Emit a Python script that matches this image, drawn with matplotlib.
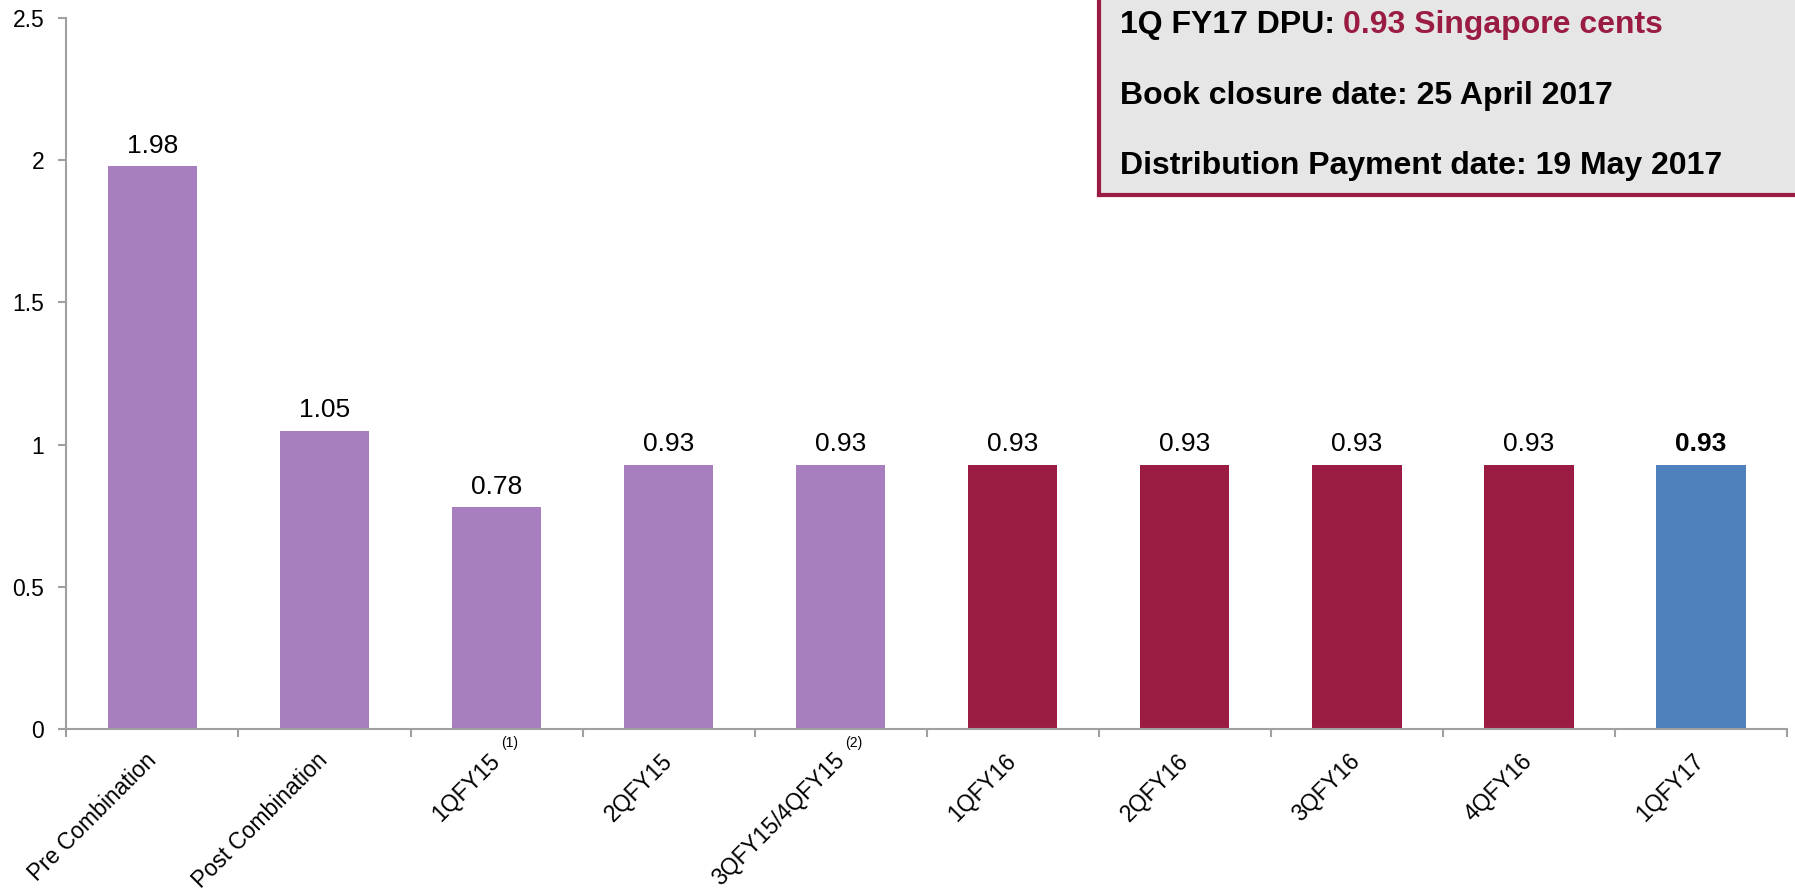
# -*- coding: utf-8 -*-
# Historique DPU par trimestre (graphique en barres)

import numpy as np
import matplotlib
matplotlib.use('Agg')
import matplotlib.pyplot as plt
from matplotlib.patches import Rectangle

plt.rcParams['font.family'] = ['Liberation Sans', 'DejaVu Sans']

########################################################
# Donnees
categories = ['Pre Combination', 'Post Combination', '1QFY15', '2QFY15',
              '3QFY15/4QFY15', '1QFY16', '2QFY16', '3QFY16', '4QFY16', '1QFY17']
dpu = [1.98, 1.05, 0.78, 0.93, 0.93, 0.93, 0.93, 0.93, 0.93, 0.93]
groupes = ['avant', 'avant', 'avant', 'avant', 'avant',
           'fy16', 'fy16', 'fy16', 'fy16', 'actuel']
notes = {2: '(1)', 4: '(2)'}
yticks = [0, 0.5, 1, 1.5, 2, 2.5]

encadre_titre = '1Q FY17 DPU: '
encadre_valeur = '0.93 Singapore cents'
encadre_lignes = ['Book closure date: 25 April 2017',
                  'Distribution Payment date: 19 May 2017']

########################################################
# Styles
couleurs = {'avant': '#a77fbf', 'fy16': '#9a1c42', 'actuel': '#4f81bd'}
gris = '#a0a0a0'
rouge = '#9a1c42'
taille_encadre = 23

fig = plt.figure(figsize=(17.95, 8.96), dpi=100)
ax = fig.add_axes([0.037, 0.186, 0.9585, 0.794])

x = np.arange(len(categories))
ax.bar(x, dpu, width=0.52, color=[couleurs[g] for g in groupes], zorder=2)

# Etiquettes des valeurs
for i, v in enumerate(dpu):
    poids = 'bold' if groupes[i] == 'actuel' else 'normal'
    ax.annotate('{:.2f}'.format(v), xy=(i, v), xytext=(0, 6),
                textcoords='offset points', ha='center', va='bottom',
                fontsize=19, fontweight=poids)

# Axes
ax.set_xlim(-0.5, len(categories) - 0.5)
ax.set_ylim(0, 2.5)
ax.set_yticks(yticks)
ax.set_yticklabels(['{:g}'.format(t) for t in yticks], fontsize=16.5)
ax.set_xticks(x)
ax.set_xticklabels(categories, rotation=45, ha='right', va='center',
                   rotation_mode='anchor', fontsize=16.5)
ax.set_xticks(np.arange(-0.5, len(categories), 1), minor=True)
ax.tick_params(axis='x', which='major', length=0, pad=20)
ax.tick_params(axis='x', which='minor', length=6, color=gris, width=1.5)
ax.tick_params(axis='y', length=6, color=gris, width=1.5, pad=10)
for s in ['top', 'right']:
    ax.spines[s].set_visible(False)
for s in ['left', 'bottom']:
    ax.spines[s].set_color(gris)
    ax.spines[s].set_linewidth(1.5)

# Renvois (1), (2)
for i, n in notes.items():
    ax.annotate(n, xy=(i, 0), xytext=(3.5, -10), textcoords='offset points',
                ha='left', va='center', fontsize=10, annotation_clip=False)

########################################################
# Encadre en haut a droite
x0, y0 = 0.6122, 0.7829
fig.patches.append(Rectangle((x0, y0), 1 - x0 + 0.01, 1 - y0 + 0.01,
                             transform=fig.transFigure, facecolor='#e6e6e6',
                             edgecolor='none', zorder=5))
fig.add_artist(plt.Line2D([x0, x0], [y0, 1.01], transform=fig.transFigure,
                          color=rouge, linewidth=3, zorder=6))
fig.add_artist(plt.Line2D([x0, 1.01], [y0, y0], transform=fig.transFigure,
                          color=rouge, linewidth=3, zorder=6))

t1 = fig.text(0.6237, 0.963, encadre_titre, fontsize=taille_encadre,
              fontweight='bold', va='baseline', ha='left', zorder=7)
fig.canvas.draw()
bb = t1.get_window_extent()
xfin = fig.transFigure.inverted().transform((bb.x1, bb.y0))[0]
fig.text(xfin, 0.963, encadre_valeur, fontsize=taille_encadre, fontweight='bold',
         color=rouge, va='baseline', ha='left', zorder=7)
for k, ligne in enumerate(encadre_lignes):
    fig.text(0.6237, 0.884 - k * 0.078, ligne, fontsize=taille_encadre,
             fontweight='bold', va='baseline', ha='left', zorder=7)

plt.savefig('out.png', dpi=100)
